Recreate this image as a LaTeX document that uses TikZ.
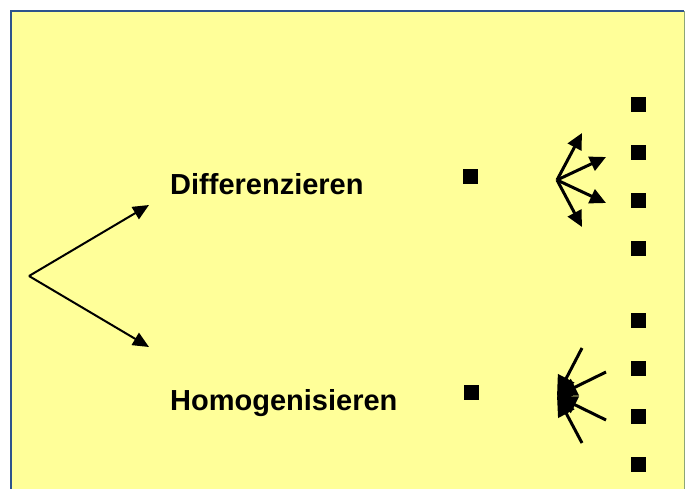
\documentclass[tikz,border=0pt]{standalone}
\usepackage{fontspec}
\setmainfont{Liberation Sans}
\usetikzlibrary{arrows.meta}
\definecolor{bgyellow}{RGB}{255,255,153}
\definecolor{frameblue}{RGB}{46,84,140}
\definecolor{framegreen}{RGB}{140,165,120}
\tikzset{
  lbl/.style={anchor=base west, inner sep=0pt, font=\fontsize{29}{34}\selectfont\bfseries},
  sq/.style={fill=black, draw=none, minimum size=15pt, inner sep=0pt},
  mainarrow/.style={line width=2pt, -{Triangle[length=16pt,width=14pt]}},
  fanarrow/.style={line width=3pt, -{Triangle[length=16pt,width=15pt]}},
  inarrow/.style={line width=3pt, -{Triangle[length=20pt,width=18pt]}},
}
\begin{document}
\begin{tikzpicture}[x=1pt,y=-1pt]
\useasboundingbox (0,0) rectangle (685,488);
\fill[bgyellow] (11,11) rectangle (685,490);
\draw[framegreen, line width=1pt] (684.5,11) -- (684.5,490);
\draw[frameblue, line width=2.5pt] (11,490) -- (11,11) -- (684,11);

% texts
\node[lbl] (diff) at (170,194.3) {Differenzieren};
\node[lbl] (homo) at (170,410) {Homogenisieren};

% left fork
\coordinate (o) at (29,276);
\coordinate (tu) at (149,205);
\coordinate (tl) at (149,347);
\draw[mainarrow] (o) -- (tu);
\draw[mainarrow] (o) -- (tl);

% middle squares
\node[sq] (m1) at (470,176.5) {};
\node[sq] (m2) at (471,392.5) {};

% right squares
\foreach \i/\y in {1/104,2/152.5,3/200.5,4/248.5,5/320,6/368.5,7/416.5,8/464}
  \node[sq] (r\i) at (638.5,\y) {};

% upper fan (outward)
\coordinate (fu) at (557,180);
\coordinate (fu1) at (582,133);
\coordinate (fu2) at (606,157);
\coordinate (fu3) at (606,203);
\coordinate (fu4) at (582,227);
\foreach \t in {fu1,fu2,fu3,fu4}
  \draw[fanarrow] (fu) -- (\t);

% lower fan (inward)
\coordinate (fl) at (557,396);
\coordinate (fl1) at (582,348);
\coordinate (fl2) at (606,372);
\coordinate (fl3) at (606,420);
\coordinate (fl4) at (582,443);
\foreach \s in {fl1,fl2,fl3,fl4}
  \draw[inarrow] (\s) -- (fl);
\end{tikzpicture}
\end{document}
